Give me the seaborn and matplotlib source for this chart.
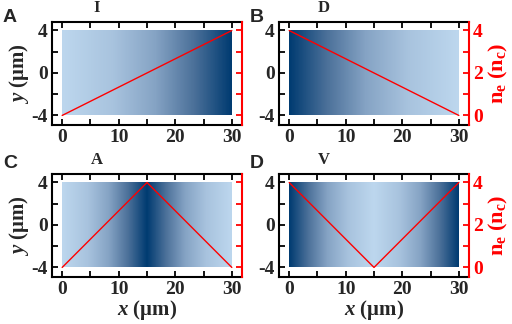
import numpy as np
import pandas as pd
import matplotlib
matplotlib.use("Agg")
import matplotlib.pyplot as plt
from matplotlib.colors import LinearSegmentedColormap
import seaborn as sns

# ---- data ----
panel_letters = ["A", "B", "C", "D"]
panel_titles = ["I", "D", "A", "V"]
profile_x = [[0, 30], [0, 30], [0, 15, 30], [0, 15, 30]]
profile_ne = [[0, 4], [4, 0], [0, 4, 0], [4, 0, 4]]
x_ticks = [0, 10, 20, 30]
y_ticks = [-4, 0, 4]
ne_ticks = [0, 2, 4]

sns.set_theme(style="ticks")
plt.rcParams["font.family"] = ["Liberation Serif", "DejaVu Serif"]
plt.rcParams["font.weight"] = "bold"
plt.rcParams["axes.unicode_minus"] = False
plt.rcParams["mathtext.fontset"] = "custom"
plt.rcParams["mathtext.rm"] = "Liberation Serif:bold"
plt.rcParams["mathtext.it"] = "Liberation Serif:italic:bold"
plt.rcParams["mathtext.bf"] = "Liberation Serif:bold"

W, H = 512, 324
fig = plt.figure(figsize=(W / 100, H / 100), dpi=100)

cmap = LinearSegmentedColormap.from_list(
    "ne", [(0, "#bdd7ee"), (0.3, "#a8c3de"), (0.55, "#85a3c4"), (0.78, "#4b7099"), (1, "#003b71")])

boxes = [(52, 22, 242, 125), (279, 22, 469, 125), (52, 174, 242, 277), (279, 174, 469, 277)]
letter_pos = [(3, 17), (250, 17), (3, 163), (250, 163)]

xlim = (-1.8, 31.8)
ylim = (-4.9, 4.8)
red = "#ff0000"

for i in range(4):
    l, t, r, b = boxes[i]
    ax = fig.add_axes([l / W, 1 - b / H, (r - l) / W, (b - t) / H])
    xs = np.linspace(0, 30, 301)
    ne = np.interp(xs, profile_x[i], profile_ne[i])
    ax.imshow(ne[np.newaxis, :], extent=(0, 30, -4, 4), aspect="auto",
              cmap=cmap, vmin=0, vmax=4, interpolation="bilinear", origin="lower")
    ax.set_xlim(*xlim)
    ax.set_ylim(*ylim)
    ax.set_xticks(x_ticks)
    ax.set_xticks([5, 15, 25], minor=True)
    ax.set_yticks(y_ticks)
    ax.set_yticks([-2, 2], minor=True)
    ax.tick_params(which="both", direction="in", top=True, right=False,
                   labelsize=14, width=1.3, color="black", pad=3, length=4)
    for lab in ax.get_xticklabels() + ax.get_yticklabels():
        lab.set_fontweight("bold")
    for s in ["left", "top", "bottom"]:
        ax.spines[s].set_linewidth(1.5)
        ax.spines[s].set_color("black")
    ax.spines["right"].set_visible(False)

    ax2 = ax.twinx()
    ax2.set_ylim((ylim[0] + 4) / 2, (ylim[1] + 4) / 2)
    df = pd.DataFrame({"x": profile_x[i], "ne": profile_ne[i]})
    sns.lineplot(data=df, x="x", y="ne", ax=ax2, color=red, linewidth=1.0)
    ax2.set_xlim(*xlim)
    ax2.set_yticks(ne_ticks)
    ax2.set_yticks([1, 3], minor=True)
    ax2.tick_params(which="both", direction="in", length=4, width=1.3,
                    color=red, labelcolor=red, labelsize=14, pad=3)
    for s in ["left", "top", "bottom"]:
        ax2.spines[s].set_visible(False)
    ax2.spines["right"].set_color(red)
    ax2.spines["right"].set_linewidth(1.5)
    ax2.set_xlabel("")
    if i in (1, 3):
        for lab in ax2.get_yticklabels():
            lab.set_fontweight("bold")
        ax2.set_ylabel(r"n$_\mathrm{e}$ (n$_\mathrm{c}$)", color=red,
                       fontsize=16, fontweight="bold", labelpad=3)
    else:
        ax2.set_yticklabels([])
        ax2.set_ylabel("")

    if i in (0, 2):
        ax.set_ylabel(r"$y$ (μm)", fontsize=15, fontweight="bold", labelpad=0)
    if i in (2, 3):
        ax.set_xlabel(r"$x$ (μm)", fontsize=15, fontweight="bold", labelpad=0)

    ax.text(0.237, 1.135, panel_titles[i], transform=ax.transAxes,
            ha="center", va="center", fontsize=12, fontweight="bold")
    lx, ly = letter_pos[i]
    fig.text(lx / W, 1 - ly / H, panel_letters[i], ha="left", va="center",
             fontsize=14, fontweight="bold", family=["Liberation Sans", "DejaVu Sans"])

fig.savefig("out.png", dpi=100)
